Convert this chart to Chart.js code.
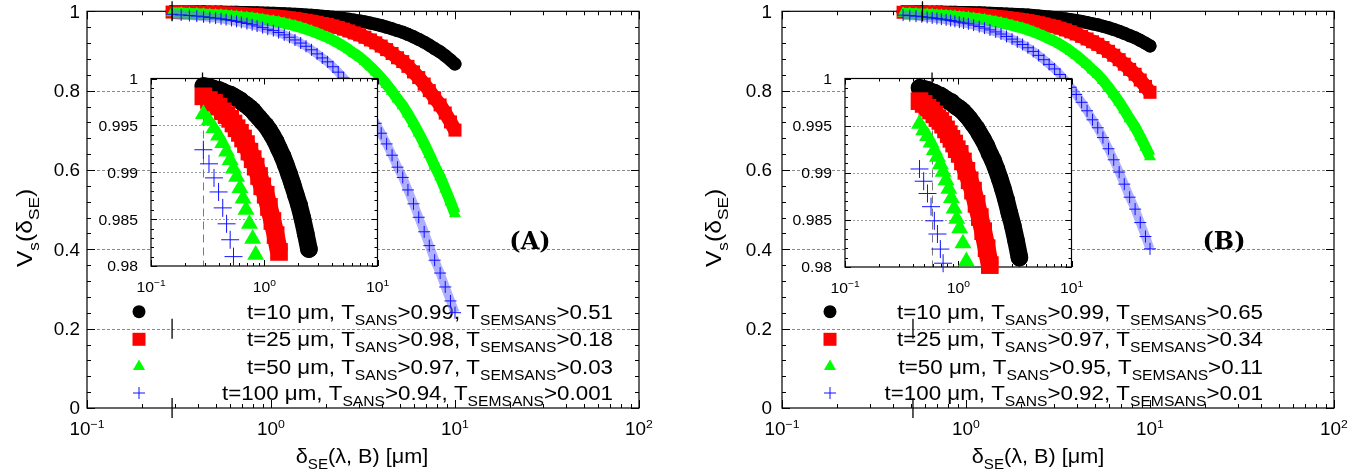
<!DOCTYPE html>
<html>
<head>
<meta charset="utf-8">
<script src="https://cdn.jsdelivr.net/npm/chart.js@4.4.1/dist/chart.umd.min.js"></script>
<style>
  html, body { margin: 0; padding: 0; background: #fff; }
  #wrap { position: relative; width: 1368px; height: 475px; overflow: hidden; }
  canvas { position: absolute; top: 0; }
</style>
</head>
<body>
<div id="wrap">
  <canvas id="mainA" width="684" height="475" style="left:0"></canvas>
  <canvas id="mainB" width="684" height="475" style="left:684px"></canvas>
  <canvas id="insetA" width="300" height="232" style="left:90px;top:66px"></canvas>
  <canvas id="insetB" width="300" height="232" style="left:784px;top:66px"></canvas>
</div>
<script>
// spin-echo length (um) and visibility, panel A
const deltaA = [0.29, 0.325, 0.36, 0.395, 0.43, 0.465, 0.5, 0.535, 0.57, 0.61, 0.65, 0.69, 0.74, 0.79, 0.84, 0.9, 0.96,
  1.03, 1.1, 1.18, 1.26, 1.35, 1.45, 1.55, 1.66, 1.78, 1.9, 2.03, 2.17, 2.32, 2.48, 2.65, 2.83, 3.03, 3.24, 3.47, 3.71,
  3.97, 4.25, 4.55, 4.87, 5.2, 5.55, 5.95, 6.35, 6.8, 7.25, 7.75, 8.3, 8.85, 9.45, 10];
const visA10 = [0.9992, 0.9991, 0.9989, 0.9988, 0.9986, 0.9984, 0.9983, 0.9981, 0.9979, 0.9977, 0.9974, 0.9972, 0.9969,
  0.9966, 0.9962, 0.9958, 0.9954, 0.9950, 0.9945, 0.9939, 0.9933, 0.9925, 0.9917, 0.9908, 0.9898, 0.9887, 0.9876, 0.9865,
  0.9851, 0.9835, 0.9818, 0.9799, 0.9778, 0.9758, 0.9733, 0.9704, 0.9674, 0.9639, 0.9601, 0.9559, 0.9513, 0.9472, 0.9419,
  0.9357, 0.9294, 0.9221, 0.9145, 0.9060, 0.8978, 0.8881, 0.8772, 0.8671];
const visA25 = [0.9981, 0.9977, 0.9974, 0.9970, 0.9965, 0.9961, 0.9957, 0.9952, 0.9947, 0.9942, 0.9936, 0.9930, 0.9922,
  0.9914, 0.9906, 0.9896, 0.9885, 0.9876, 0.9863, 0.9848, 0.9833, 0.9815, 0.9794, 0.9772, 0.9748, 0.9721, 0.9692, 0.9666,
  0.9631, 0.9593, 0.9551, 0.9505, 0.9455, 0.9407, 0.9346, 0.9278, 0.9205, 0.9124, 0.9034, 0.8936, 0.8829, 0.8733, 0.8612,
  0.8472, 0.8329, 0.8166, 0.8001, 0.7815, 0.7640, 0.7435, 0.7211, 0.7005];
const visA50 = [0.9962, 0.9955, 0.9947, 0.9939, 0.9931, 0.9922, 0.9913, 0.9904, 0.9895, 0.9883, 0.9872, 0.9860, 0.9845,
  0.9829, 0.9812, 0.9792, 0.9771, 0.9753, 0.9728, 0.9698, 0.9667, 0.9632, 0.9591, 0.9549, 0.9501, 0.9448, 0.9393, 0.9340,
  0.9274, 0.9200, 0.9120, 0.9032, 0.8938, 0.8846, 0.8732, 0.8604, 0.8469, 0.8320, 0.8157, 0.7980, 0.7789, 0.7621, 0.7411,
  0.7171, 0.6930, 0.6661, 0.6393, 0.6099, 0.5828, 0.5519, 0.5190, 0.4897];
const visA100 = [0.9924, 0.9909, 0.9894, 0.9879, 0.9862, 0.9845, 0.9828, 0.9810, 0.9791, 0.9769, 0.9746, 0.9722, 0.9692,
  0.9661, 0.9629, 0.9589, 0.9548, 0.9513, 0.9464, 0.9406, 0.9346, 0.9278, 0.9200, 0.9119, 0.9029, 0.8927, 0.8824, 0.8726,
  0.8602, 0.8466, 0.8319, 0.8161, 0.7991, 0.7828, 0.7627, 0.7407, 0.7176, 0.6926, 0.6657, 0.6372, 0.6071, 0.5812, 0.5497,
  0.5147, 0.4808, 0.4442, 0.4093, 0.3726, 0.3402, 0.3051, 0.2699, 0.2403];

// panel B
const deltaB = [0.455, 0.495, 0.535, 0.575, 0.615, 0.655, 0.695, 0.735, 0.78, 0.825, 0.87, 0.92, 0.97,
  1.03, 1.1, 1.18, 1.26, 1.35, 1.45, 1.55, 1.66, 1.78, 1.9, 2.03, 2.17, 2.32, 2.48, 2.65, 2.83, 3.03, 3.24, 3.47, 3.71,
  3.97, 4.25, 4.55, 4.87, 5.2, 5.55, 5.95, 6.35, 6.8, 7.25, 7.75, 8.3, 8.85, 9.45, 10];
const visB10 = [0.9990, 0.9989, 0.9988, 0.9986, 0.9985, 0.9983, 0.9982, 0.9980, 0.9978, 0.9976, 0.9975, 0.9972, 0.9970,
  0.9968, 0.9965, 0.9961, 0.9957, 0.9952, 0.9947, 0.9941, 0.9935, 0.9928, 0.9920, 0.9913, 0.9904, 0.9894, 0.9883, 0.9871,
  0.9857, 0.9844, 0.9828, 0.9810, 0.9790, 0.9768, 0.9743, 0.9715, 0.9685, 0.9658, 0.9624, 0.9584, 0.9542, 0.9494, 0.9444,
  0.9387, 0.9333, 0.9268, 0.9195, 0.9127];
const visB25 = [0.9976, 0.9973, 0.9969, 0.9966, 0.9962, 0.9958, 0.9955, 0.9951, 0.9946, 0.9941, 0.9936, 0.9931, 0.9925,
  0.9920, 0.9912, 0.9902, 0.9892, 0.9881, 0.9867, 0.9853, 0.9838, 0.9820, 0.9802, 0.9784, 0.9762, 0.9737, 0.9710, 0.9680,
  0.9647, 0.9615, 0.9575, 0.9531, 0.9482, 0.9429, 0.9369, 0.9303, 0.9232, 0.9167, 0.9086, 0.8991, 0.8893, 0.8781, 0.8667,
  0.8537, 0.8414, 0.8268, 0.8107, 0.7958];
const visB50 = [0.9952, 0.9945, 0.9939, 0.9932, 0.9924, 0.9917, 0.9909, 0.9901, 0.9892, 0.9883, 0.9873, 0.9862, 0.9851,
  0.9841, 0.9825, 0.9806, 0.9786, 0.9763, 0.9736, 0.9709, 0.9678, 0.9643, 0.9607, 0.9573, 0.9529, 0.9481, 0.9428, 0.9370,
  0.9307, 0.9246, 0.9169, 0.9084, 0.8992, 0.8890, 0.8778, 0.8656, 0.8523, 0.8405, 0.8256, 0.8084, 0.7910, 0.7711, 0.7512,
  0.7290, 0.7081, 0.6838, 0.6574, 0.6335];
const visB100 = [0.9904, 0.9891, 0.9878, 0.9864, 0.9849, 0.9835, 0.9819, 0.9804, 0.9786, 0.9767, 0.9748, 0.9726, 0.9704,
  0.9685, 0.9653, 0.9615, 0.9576, 0.9531, 0.9480, 0.9427, 0.9367, 0.9299, 0.9230, 0.9164, 0.9081, 0.8989, 0.8889, 0.8780,
  0.8662, 0.8548, 0.8408, 0.8251, 0.8086, 0.7904, 0.7706, 0.7493, 0.7265, 0.7064, 0.6817, 0.6535, 0.6257, 0.5947, 0.5643,
  0.5314, 0.5013, 0.4675, 0.4322, 0.4012];

const legendA = ['t=10 μm, T_{SANS}>0.99, T_{SEMSANS}>0.51', 't=25 μm, T_{SANS}>0.98, T_{SEMSANS}>0.18',
  't=50 μm, T_{SANS}>0.97, T_{SEMSANS}>0.03', 't=100 μm, T_{SANS}>0.94, T_{SEMSANS}>0.001'];
const legendB = ['t=10 μm, T_{SANS}>0.99, T_{SEMSANS}>0.65', 't=25 μm, T_{SANS}>0.97, T_{SEMSANS}>0.34',
  't=50 μm, T_{SANS}>0.95, T_{SEMSANS}>0.11', 't=100 μm, T_{SANS}>0.92, T_{SEMSANS}>0.01'];

const mainXTicks = [0.1, 1, 10, 100];
const mainXLabels = ['10^{−1}', '10^{0}', '10^{1}', '10^{2}'];
const mainYTicks = [0, 0.2, 0.4, 0.6, 0.8, 1];
const mainYLabels = ['0', '0.2', '0.4', '0.6', '0.8', '1'];
const insetXTicks = [0.1, 1, 10];
const insetXLabels = ['10^{−1}', '10^{0}', '10^{1}'];
const insetYTicks = [0.98, 0.985, 0.99, 0.995, 1];
const insetYLabels = ['0.98', '0.985', '0.99', '0.995', '1'];

// short vertical marks at the lower delta limit
const markAx = [0.29, 0.29, 0.29];
const markAy = [0, 0.2, 1];
const markBx = [0.515, 0.515, 0.58];
const markBy = [0, 0.2, 1];
const insetMarkA = 0.285;
const insetMarkB = 0.587;

const colors = ['#000000', '#ff0000', '#00ff00', '#1010ff'];
const shapes = ['circle', 'rect', 'triangle', 'cross'];
const mainR = [6.5, 9.2, 7, 6];
const insetR = [8.8, 12.5, 9.8, 9];
// band drawn under the markers where the points are packed tight
const mainBand = [
  { w: 13, c: '#000000', cap: 'round' },
  { w: 14, c: '#ff0000', cap: 'butt' },
  { w: 11, c: '#00ff00', cap: 'butt' },
  { w: 9, c: 'rgba(110,110,255,0.55)', cap: 'butt' }
];
const insetBand = [
  { w: 17.6, c: '#000000', cap: 'round' },
  { w: 18, c: '#ff0000', cap: 'butt' },
  null,
  null
];
const FONT = '"Liberation Sans", Arial, sans-serif';

function rich(ctx, str, x, y, size, align, stretch) {
  const sx = stretch || 1;
  const parts = str.split(/([_^]\{[^}]*\})/).filter(Boolean).map(s =>
    (s[1] === '{' && (s[0] === '_' || s[0] === '^')) ? { t: s.slice(2, -1), k: s[0] } : { t: s, k: '' });
  const fontOf = p => (p.k === '_' ? size * 0.7 : p.k === '^' ? size * 0.65 : size) + 'px ' + FONT;
  let total = 0;
  const ws = parts.map(p => { ctx.font = fontOf(p); const w = ctx.measureText(p.t).width; total += w; return w; });
  const tw = total * sx;
  const x0 = align === 'right' ? x - tw : align === 'center' ? x - tw / 2 : x;
  ctx.save();
  ctx.translate(x0, y);
  ctx.scale(sx, 1);
  ctx.textAlign = 'left';
  ctx.textBaseline = 'alphabetic';
  let cx = 0;
  parts.forEach((p, i) => {
    ctx.font = fontOf(p);
    const dy = p.k === '_' ? size * 0.3 : p.k === '^' ? -size * 0.4 : 0;
    ctx.fillText(p.t, cx, dy);
    cx += ws[i];
  });
  ctx.restore();
}

function seg(ctx, x1, y1, x2, y2) {
  ctx.beginPath(); ctx.moveTo(x1, y1); ctx.lineTo(x2, y2); ctx.stroke();
}

const deco = {
  id: 'deco',
  beforeDatasetsDraw(chart, args, o) {
    const { ctx, chartArea: a } = chart;
    const xs = chart.scales.x, ys = chart.scales.y;
    ctx.save();
    if (o.fill) {
      ctx.fillStyle = '#fff';
      ctx.fillRect(a.left, a.top, a.right - a.left, a.bottom - a.top);
    }
    ctx.lineWidth = 1;
    ctx.strokeStyle = o.gridColor;
    ctx.setLineDash(o.gridDash);
    o.grid.forEach(v => {
      const p = Math.round(ys.getPixelForValue(v)) + 0.5;
      seg(ctx, a.left, p, a.right, p);
    });
    if (o.vline) {
      ctx.strokeStyle = '#7a7a7a';
      ctx.setLineDash([8, 5]);
      const p = Math.round(xs.getPixelForValue(o.vline)) + 0.5;
      seg(ctx, p, a.top, p, a.bottom);
    }
    ctx.setLineDash([]);
    ctx.strokeStyle = '#000';
    ctx.lineWidth = 1.2;
    ctx.strokeRect(a.left, a.top, a.right - a.left, a.bottom - a.top);
    ctx.lineWidth = 1;
    const tx = (vals, len) => vals.forEach(v => {
      const p = Math.round(xs.getPixelForValue(v)) + 0.5;
      seg(ctx, p, a.bottom, p, a.bottom - len); seg(ctx, p, a.top, p, a.top + len);
    });
    const ty = (vals, len) => vals.forEach(v => {
      const p = Math.round(ys.getPixelForValue(v)) + 0.5;
      seg(ctx, a.left, p, a.left + len, p); seg(ctx, a.right, p, a.right - len, p);
    });
    tx(o.xMajor, o.major); tx(o.xMinor, o.minor);
    ty(o.yMajor, o.major); ty(o.yMinor, o.minor);

    if (o.legend) {
      const L = o.legend;
      L.labels.forEach((txt, i) => {
        const y = L.rows[i];
        ctx.fillStyle = colors[i];
        ctx.strokeStyle = colors[i];
        Chart.helpers.drawPoint(ctx, { pointStyle: shapes[i], radius: mainR[i], rotation: 0,
          borderWidth: shapes[i] === 'cross' ? 1 : 0 }, L.symX, y);
        ctx.fillStyle = '#000';
        rich(ctx, txt, L.textRight, y + 7, 20.5, 'right', 1.09);
      });
    }
    ctx.restore();
  },
  afterDraw(chart, args, o) {
    const { ctx, chartArea: a } = chart;
    const xs = chart.scales.x, ys = chart.scales.y;
    ctx.save();
    ctx.fillStyle = '#000';
    o.xMajor.forEach((v, i) => {
      rich(ctx, o.xLabels[i], xs.getPixelForValue(v), a.bottom + o.xLabelDy, o.tickFont, 'center', 1.05);
    });
    o.yMajor.forEach((v, i) => {
      rich(ctx, o.yLabels[i], a.left - o.yLabelDx, ys.getPixelForValue(v) + o.tickFont * 0.36, o.tickFont, 'right', 1.05);
    });
    if (o.xTitle) rich(ctx, o.xTitle.text, o.xTitle.x, o.xTitle.y, 21, 'center', 1.03);
    if (o.yTitle) {
      ctx.save();
      ctx.translate(o.yTitle.x, o.yTitle.y);
      ctx.rotate(-Math.PI / 2);
      rich(ctx, o.yTitle.text, 0, 0, 22, 'center', 1.12);
      ctx.restore();
    }
    if (o.tag) {
      ctx.font = 'bold 24px "DejaVu Serif", serif';
      ctx.textAlign = 'center';
      ctx.textBaseline = 'middle';
      ctx.fillText(o.tag.text, o.tag.x, o.tag.y);
    }
    ctx.restore();
  }
};

const logMinor = decades => decades.flatMap(d => [2, 3, 4, 5, 6, 7, 8, 9].map(k => d * k));
const linMinor = (start, step, n, every) => {
  const out = [];
  for (let i = 1; i < n; i++) if (i % every) out.push(+(start + i * step).toFixed(4));
  return out;
};

function seriesSets(xs, ysList, radii, bands, minY) {
  return ysList.map((ys, i) => {
    const b = bands[i];
    return {
      data: xs.map((x, j) => ({ x, y: ys[j] })).filter(p => p.y >= minY),
      showLine: !!b,
      borderColor: b ? b.c : colors[i],
      borderWidth: b ? b.w : 0,
      borderCapStyle: b ? b.cap : 'butt',
      borderJoinStyle: 'round',
      pointStyle: shapes[i],
      pointRadius: radii[i],
      pointBackgroundColor: colors[i],
      pointBorderColor: colors[i],
      pointBorderWidth: shapes[i] === 'cross' ? 1 : 0,
      order: 3 - i,
      clip: 14
    };
  });
}

function markSet(xs, ys, r) {
  return {
    data: xs.map((x, j) => ({ x, y: ys[j] })),
    pointStyle: 'line', pointRotation: 90, pointRadius: r,
    pointBorderColor: '#000', pointBorderWidth: 1.3, order: -1, clip: 14
  };
}

function makeChart(id, datasets, pad, xr, yr, decoOpts) {
  return new Chart(document.getElementById(id), {
    type: 'scatter',
    data: { datasets },
    options: {
      responsive: false, animation: false, devicePixelRatio: 1, events: [],
      layout: { padding: pad },
      plugins: { legend: { display: false }, tooltip: { enabled: false }, deco: decoOpts },
      scales: {
        x: { type: 'logarithmic', min: xr[0], max: xr[1], display: false },
        y: { type: 'linear', min: yr[0], max: yr[1], display: false }
      }
    },
    plugins: [deco]
  });
}

const mainCommon = {
  grid: [0.2, 0.4, 0.6, 0.8], gridColor: '#8a8a8a', gridDash: [3, 2],
  xMajor: mainXTicks, xLabels: mainXLabels, xMinor: logMinor([0.1, 1, 10]),
  yMajor: mainYTicks, yLabels: mainYLabels, yMinor: linMinor(0, 0.04, 25, 5),
  major: 8, minor: 4, tickFont: 18, xLabelDy: 27
};
const insetCommon = {
  fill: true, grid: [0.985, 0.99, 0.995], gridColor: '#9a9a9a', gridDash: [2, 2],
  xMajor: insetXTicks, xLabels: insetXLabels, xMinor: logMinor([0.1, 1]),
  yMajor: insetYTicks, yLabels: insetYLabels, yMinor: linMinor(0.98, 0.001, 20, 5),
  major: 6, minor: 3, tickFont: 15, xLabelDy: 26, yLabelDx: 13
};

makeChart('mainA',
  [...seriesSets(deltaA, [visA10, visA25, visA50, visA100], mainR, mainBand, 0), markSet(markAx, markAy, 10)],
  { left: 87, right: 45, top: 11, bottom: 67 }, [0.1, 100], [0, 1],
  Object.assign({}, mainCommon, {
    yLabelDx: 7,
    legend: { labels: legendA, rows: [311.7, 339.3, 366.5, 393], symX: 139, textRight: 613 },
    xTitle: { text: 'δ_{SE}(λ, B) [μm]', x: 362, y: 463 },
    yTitle: { text: 'V_{s}(δ_{SE})', x: 32, y: 228 },
    tag: { text: '(A)', x: 530, y: 243 }
  }));

makeChart('mainB',
  [...seriesSets(deltaB, [visB10, visB25, visB50, visB100], mainR, mainBand, 0), markSet(markBx, markBy, 10)],
  { left: 98, right: 34, top: 11, bottom: 67 }, [0.1, 100], [0, 1],
  Object.assign({}, mainCommon, {
    yLabelDx: 10,
    legend: { labels: legendB, rows: [311.7, 339.3, 366.5, 393], symX: 146, textRight: 579 },
    xTitle: { text: 'δ_{SE}(λ, B) [μm]', x: 354, y: 463 },
    yTitle: { text: 'V_{s}(δ_{SE})', x: 37, y: 228 },
    tag: { text: '(B)', x: 540, y: 243 }
  }));

makeChart('insetA',
  [...seriesSets(deltaA, [visA10, visA25, visA50, visA100], insetR, insetBand, 0.98), markSet([insetMarkA], [1], 6)],
  { left: 61, right: 12, top: 12, bottom: 32 }, [0.1, 10], [0.98, 1],
  Object.assign({}, insetCommon, { vline: insetMarkA }));

makeChart('insetB',
  [...seriesSets(deltaB, [visB10, visB25, visB50, visB100], insetR, insetBand, 0.98), markSet([insetMarkB], [1], 6)],
  { left: 61, right: 11, top: 12, bottom: 31 }, [0.1, 10], [0.98, 1],
  Object.assign({}, insetCommon, { vline: insetMarkB }));
</script>
</body>
</html>
